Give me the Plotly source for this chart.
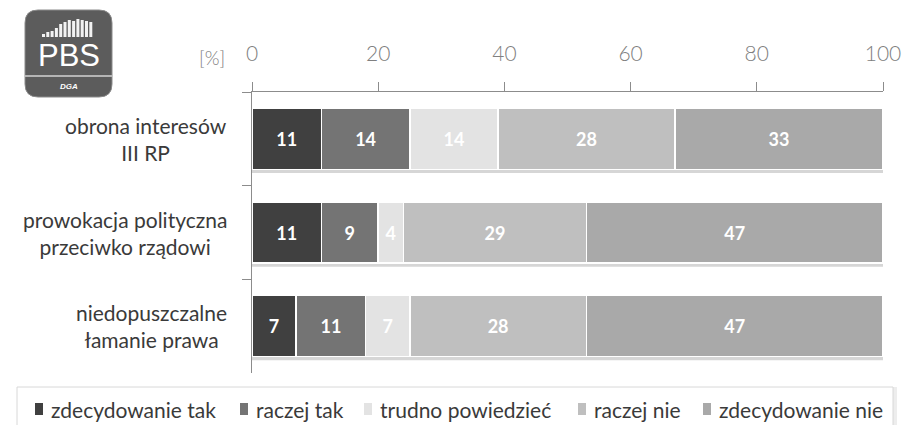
import plotly.graph_objects as go

categories = ["obrona interesów<br>III RP",
              "prowokacja polityczna<br>przeciwko rządowi",
              "niedopuszczalne<br>łamanie prawa"]
series_names = ["zdecydowanie tak", "raczej tak", "trudno powiedzieć",
                "raczej nie", "zdecydowanie nie"]
zdecydowanie_tak = [11, 11, 7]
raczej_tak = [14, 9, 11]
trudno_powiedziec = [14, 4, 7]
raczej_nie = [28, 29, 28]
zdecydowanie_nie = [33, 47, 47]
tick_values = [0, 20, 40, 60, 80, 100]
tick_labels = ["0", "20", "40", "60", "80", "100"]

series_values = [zdecydowanie_tak, raczej_tak, trudno_powiedziec,
                 raczej_nie, zdecydowanie_nie]
colors = ["#404040", "#747474", "#e3e3e3", "#bfbfbf", "#a9a9a9"]

W, H = 904, 425
L, R, T, B = 252, 21, 92, 52          # plot area margins in pixels
PW, PH = W - R - L, H - B - T
BARGAP = 0.35


def px(x):
    return (x - L) / PW


def py(y):
    return (H - B - y) / PH


FONT = "Lato, 'Open Sans', sans-serif"

fig = go.Figure()
for name, vals, col in zip(series_names, series_values, colors):
    fig.add_trace(go.Bar(
        y=categories, x=vals, name=name, orientation="h",
        marker=dict(color=col, line=dict(color="white", width=1.5)),
        text=vals, texttemplate="%{x}", textposition="inside",
        insidetextanchor="middle", textangle=0,
        textfont=dict(color="white", size=18, family=FONT, weight="bold"),
        showlegend=False, hoverinfo="skip",
    ))

shapes = []
annotations = []

# soft shadow under each bar
totals = [sum(v[i] for v in series_values) for i in range(len(categories))]
for i, tot in enumerate(totals):
    half = (1 - BARGAP) / 2
    shapes.append(dict(type="rect", xref="x", yref="y", x0=0, x1=tot,
                       y0=i + half, y1=i + half + 0.04,
                       line=dict(width=0), fillcolor="#d6d6d6", layer="below"))

# category labels (right-aligned block, centred lines)
for c in categories:
    annotations.append(dict(
        text=c, xref="paper", yref="y", x=px(229), y=c,
        xanchor="right", yanchor="middle", align="center", showarrow=False,
        font=dict(size=21, color="#3a3a3a", family=FONT),
    ))

# [%] label
annotations.append(dict(
    text="[%]", xref="paper", yref="paper", x=px(212), y=py(58),
    xanchor="center", yanchor="middle", showarrow=False,
    font=dict(size=19, color="#808080", family=FONT, weight=300),
))

# legend box
shapes.append(dict(type="rect", xref="paper", yref="paper",
                   x0=px(19), x1=px(895), y0=py(389), y1=py(440),
                   line=dict(color="#ededed", width=4), fillcolor="white",
                   layer="below"))
shapes.append(dict(type="rect", xref="paper", yref="paper",
                   x0=px(17), x1=px(893), y0=py(387), y1=py(440),
                   line=dict(color="#d8d8d8", width=1), fillcolor="white",
                   layer="below"))

# legend items
sq_x = [35, 240, 364, 578, 703]
for name, col, sx in zip(series_names, colors, sq_x):
    shapes.append(dict(type="rect", xref="paper", yref="paper",
                       x0=px(sx), x1=px(sx + 8), y0=py(415), y1=py(403),
                       line=dict(width=0), fillcolor=col))
    annotations.append(dict(
        text=name, xref="paper", yref="paper", x=px(sx + 14), y=py(409),
        xanchor="left", yanchor="middle", showarrow=False,
        font=dict(size=21, color="#3a3a3a", family=FONT),
    ))

# logo
lx0, lx1, ly0, ly1, r = 25, 112, 10, 97, 13


def P(x, y):
    return f"{px(x)},{py(y)}"


path = (f"M {P(lx0 + r, ly0)} L {P(lx1 - r, ly0)} Q {P(lx1, ly0)} {P(lx1, ly0 + r)} "
        f"L {P(lx1, ly1 - r)} Q {P(lx1, ly1)} {P(lx1 - r, ly1)} "
        f"L {P(lx0 + r, ly1)} Q {P(lx0, ly1)} {P(lx0, ly1 - r)} "
        f"L {P(lx0, ly0 + r)} Q {P(lx0, ly0)} {P(lx0 + r, ly0)} Z")
shapes.append(dict(type="path", xref="paper", yref="paper", path=path,
                   fillcolor="#5c5c5c", line=dict(color="#8a8a8a", width=1)))
# silhouettes
heights = [3, 5, 6, 9, 13, 15, 17, 16, 18, 17, 16, 15]
for i, h in enumerate(heights):
    x0 = 42 + i * 4.3
    shapes.append(dict(type="rect", xref="paper", yref="paper",
                       x0=px(x0), x1=px(x0 + 3), y0=py(37), y1=py(37 - h),
                       line=dict(width=0), fillcolor="#f2f2f2"))
shapes.append(dict(type="line", xref="paper", yref="paper",
                   x0=px(lx0), x1=px(lx1), y0=py(76), y1=py(76),
                   line=dict(color="#b5b5b5", width=2)))
annotations.append(dict(
    text="PBS", xref="paper", yref="paper", x=px(68.5), y=py(56),
    xanchor="center", yanchor="middle", showarrow=False,
    font=dict(size=31, color="white", family="Liberation Sans, Arial"),
))
annotations.append(dict(
    text="<i><b>DGA</b></i>", xref="paper", yref="paper", x=px(68.5), y=py(86),
    xanchor="center", yanchor="middle", showarrow=False,
    font=dict(size=8, color="white", family="Liberation Sans, Arial"),
))

fig.update_layout(
    width=W, height=H,
    margin=dict(l=L, r=R, t=T, b=B, pad=0, autoexpand=False),
    paper_bgcolor="white", plot_bgcolor="white",
    barmode="stack", bargap=BARGAP,
    shapes=shapes, annotations=annotations,
    hovermode=False,
    xaxis=dict(
        side="top", range=[0, 100], tickvals=tick_values, ticktext=tick_labels,
        showgrid=False, zeroline=False, showline=True, linecolor="#8c8c8c",
        linewidth=1, ticks="outside", ticklen=9, tickcolor="#8c8c8c",
        ticklabelstandoff=13, automargin=False,
        tickfont=dict(size=21, color="#808080", family=FONT, weight=300),
        fixedrange=True,
    ),
    yaxis=dict(
        autorange="reversed", showgrid=False, zeroline=False, showline=True,
        linecolor="#8c8c8c", linewidth=1, ticks="outside", ticklen=9,
        tickcolor="#8c8c8c", tickson="boundaries", showticklabels=False,
        automargin=False, fixedrange=True,
    ),
)

# let the 904x425 figure fill the window exactly (no default page margin)
fig.write_html(
    "out.html",
    config=dict(displayModeBar=False),
    post_script="document.body.style.margin='0';"
                "document.documentElement.style.overflow='hidden';",
)
